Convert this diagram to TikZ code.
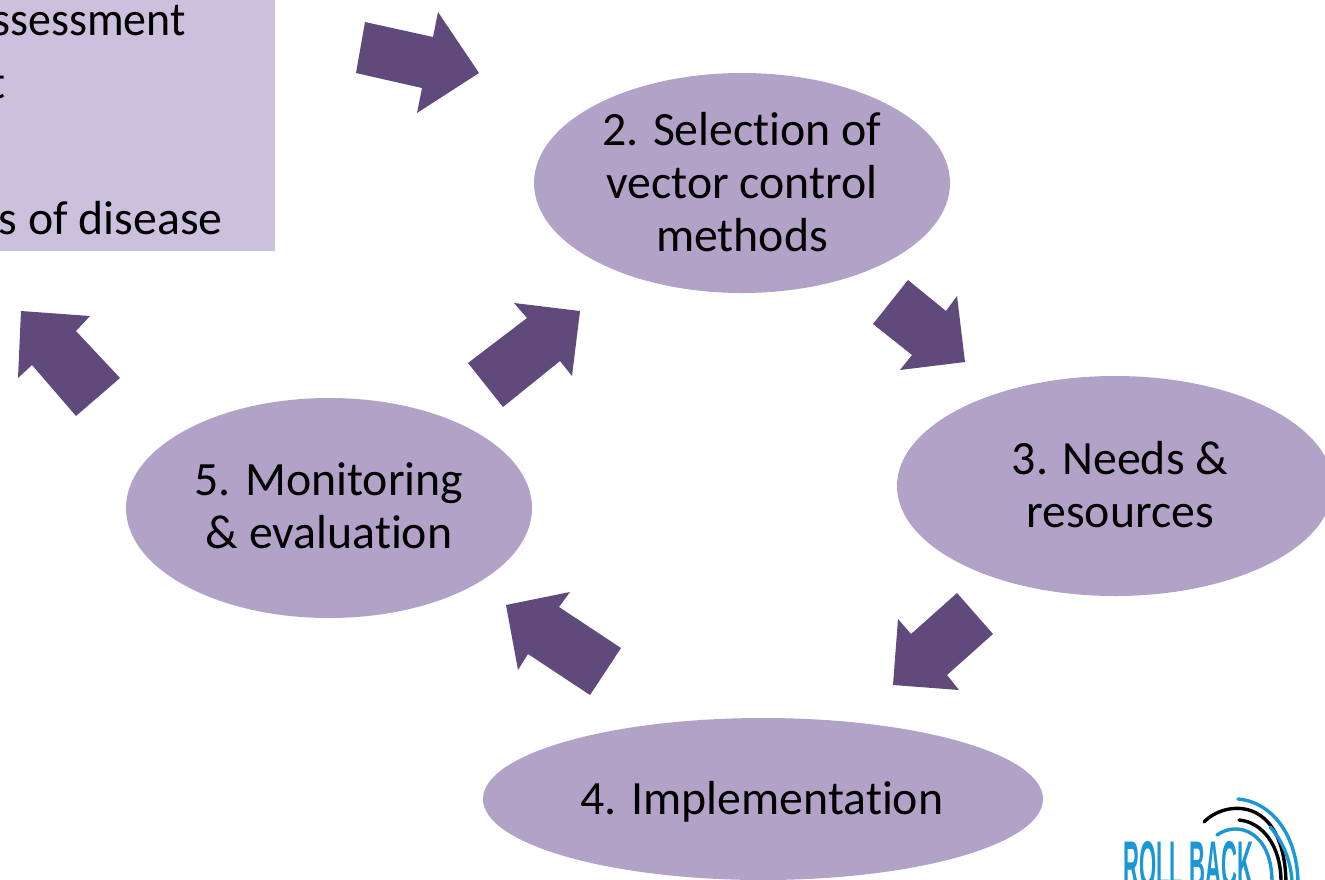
\documentclass[tikz,border=0pt]{standalone}
\usepackage{graphicx}
\usepackage{fontspec}
\setmainfont[Ligatures=NoCommon]{Carlito}
\newfontfamily\logofont{Liberation Sans}
\definecolor{boxfill}{HTML}{CBC1DC}
\definecolor{ovalfill}{HTML}{B2A2C8}
\definecolor{arrowfill}{HTML}{604A7B}
\definecolor{logoblue}{HTML}{1B97D5}
\tikzset{
  stagetext/.style={align=center,font=\fontsize{47.8}{53}\selectfont,text=black,inner sep=0pt},
  boxtext/.style={anchor=base east,font=\fontsize{47.8}{53}\selectfont,text=black,inner sep=0pt},
  flow/.style={fill=arrowfill,draw=none},
  bluearc/.style={draw=logoblue,line width=3.4pt,line cap=round},
  blackarc/.style={draw=black,line width=3.4pt,line cap=round}
}
\begin{document}
\begin{tikzpicture}[x=1pt,y=-1pt]
\useasboundingbox (0,0) rectangle (1325,879);
\clip (0,0) rectangle (1325,879);
\fill[white] (0,0) rectangle (1325,879);
% box
\fill[boxfill] (-5,-5) rectangle (275,251);
\node[boxtext] (l1) at (186,35) {\scalebox{0.96}[1]{ssessment}};
\node[boxtext] (l2) at (6,98) {t};
\node[boxtext] (l3) at (223,234) {s of disease};
% ovals
\fill[ovalfill] (742,183) ellipse [x radius=208,y radius=110];
\fill[ovalfill] (1115,486) ellipse [x radius=218,y radius=110];
\fill[ovalfill] (763,799) ellipse [x radius=280,y radius=81];
\fill[ovalfill] (329,508) ellipse [x radius=203,y radius=110];
\node[stagetext] (n2) at (742,182) {2. Selection of\\vector control\\methods};
\node[stagetext] (n3) at (1120,485) {3. Needs \&\\resources};
\node[stagetext] (n4) at (762,802) {4. Implementation};
\node[stagetext] (n5) at (329,506) {5. Monitoring\\\& evaluation};
% arrows
\fill[flow] (365,22)--(433,37)--(438,12)--(479,73)--(417,113)--(422,88)--(356,73)--cycle;
\fill[flow] (908,280)--(946,311)--(957,296)--(965,362)--(900,370)--(912,355)--(873,324)--cycle;
\fill[flow] (957,593)--(993,634)--(947,675)--(959,690)--(893,685)--(898,619)--(911,634)--cycle;
\fill[flow] (621,648)--(590,695)--(528,654)--(518,670)--(506,605)--(570,592)--(559,607)--cycle;
\fill[flow] (503,407)--(468,363)--(527,318)--(514,303)--(580,311)--(572,376)--(560,361)--cycle;
\fill[flow] (120,378)--(76,416)--(32,365)--(18,378)--(21,311)--(90,316)--(76,331)--cycle;
% logo
\node[anchor=base west,inner sep=0pt,text=logoblue] (logo) at (1123,887) {\scalebox{0.335}[1]{\fontsize{66}{66}\selectfont\logofont\bfseries ROLL BACK}};
\draw[bluearc] (1238,799) .. controls (1272,802) and (1297,835) .. (1298,882);
\draw[blackarc] (1204,822) .. controls (1225,800) and (1284,795) .. (1286,882);
\draw[blackarc] (1239,820) .. controls (1262,822) and (1281,845) .. (1281,882);
\draw[bluearc] (1217,835) .. controls (1238,820) and (1272,832) .. (1272,882);
\draw[bluearc] (1270,827) .. controls (1282,840) and (1291,860) .. (1292,882);
\end{tikzpicture}
\end{document}
